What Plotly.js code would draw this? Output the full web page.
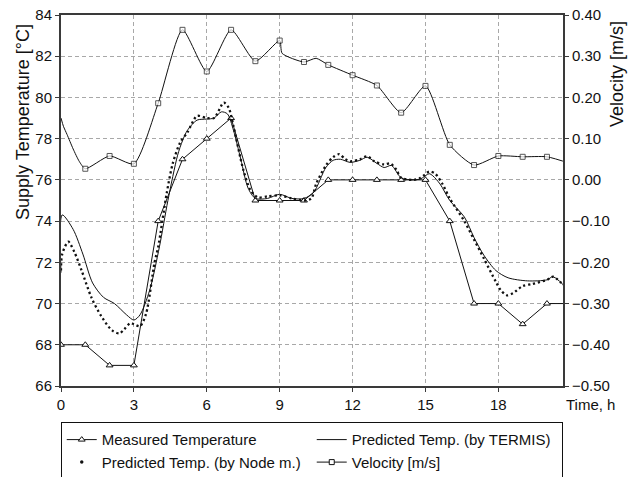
<!DOCTYPE html>
<html>
<head>
<meta charset="utf-8">
<script src="https://cdn.plot.ly/plotly-3.0.1.min.js"></script>
<style>
html,body{margin:0;padding:0;background:#fff;}
#chart{width:634px;height:477px;}
</style>
</head>
<body>
<div id="chart"></div>
<script>
// ---- Data ----
const measHours = [0,1,2,3,4,5,6,7,8,9,10,11,12,13,14,15,16,17,18,19,20,21];
const measTemp  = [68,68,67,67,74,77,78,79,75,75,75,76,76,76,76,76,74,70,70,69,70,70];

const termisTime = [0,0.05,0.5,0.9,1.3,1.75,2.2,2.7,3.0,3.25,3.65,4.05,4.4,4.8,5.0,5.2,5.6,6.0,6.3,6.6,6.85,7.1,7.4,7.7,8.0,8.5,9.0,9.5,10.0,10.4,10.9,11.2,11.5,11.9,12.3,12.6,13.0,13.3,13.6,14.0,14.5,14.8,15.15,15.3,15.6,16.0,16.6,17.0,17.4,17.9,18.4,19.2,20.0,20.25,21];
const termisTemp = [71.5,74.3,73.6,72.4,71.0,70.3,70.0,69.45,69.2,69.45,70.65,72.75,75.0,77.2,77.9,78.4,78.9,78.95,79.0,79.3,79.2,78.4,77.0,75.6,75.1,75.1,75.3,75.1,75.1,75.4,76.6,76.95,77.0,76.85,76.95,77.1,76.8,76.6,76.7,76.1,76.0,76.05,76.3,76.2,75.8,75.0,74.2,73.2,72.35,71.6,71.25,71.1,71.15,71.3,70.5];

const nodeTime = [0,0.05,0.3,0.55,0.85,1.25,1.65,2.1,2.4,2.6,2.85,3.0,3.25,3.5,3.85,4.0,4.35,4.6,4.9,5.2,5.6,6.0,6.3,6.7,6.9,7.1,7.5,7.8,8.1,8.5,9.0,9.5,10.0,10.3,10.5,10.9,11.2,11.45,11.7,11.9,12.3,12.6,12.9,13.3,13.55,13.8,14.0,14.5,14.8,15.15,15.4,15.7,16.0,16.6,17.0,17.4,17.9,18.1,18.35,18.6,19.0,19.4,20.0,20.25,21];
const nodeTemp = [71.6,72.4,73.0,72.5,71.6,70.3,69.4,68.7,68.55,68.75,69.05,69.0,68.9,69.5,72.0,72.75,75.35,76.8,77.8,78.3,79.1,79.0,79.0,79.75,79.5,78.6,76.5,75.5,75.15,75.2,75.25,75.1,75.0,75.1,75.8,76.7,77.1,77.25,77.0,76.9,77.0,77.15,76.9,76.75,76.8,76.5,76.1,76.0,76.1,76.4,76.3,75.8,75.1,74.0,73.1,72.2,71.05,70.65,70.4,70.5,70.85,70.95,71.15,71.3,70.5];

const velTime  = [0,0.1,0.25,0.5,0.75,1,2,3,4,5,6,7,8,9,9.1,10,10.5,11,12,13,14,15,16,17,18,19,20,21];
const velValue = [0.15,0.13,0.11,0.075,0.045,0.027,0.058,0.039,0.186,0.364,0.263,0.364,0.288,0.338,0.307,0.286,0.295,0.279,0.254,0.229,0.163,0.228,0.085,0.036,0.058,0.056,0.056,0.039];

const xTickVals = [0,3,6,9,12,15,18];
const seriesNames = ['Measured Temperature','Predicted Temp. (by TERMIS)','Predicted Temp. (by Node m.)','Velocity [m/s]'];

// ---- Styling ----
const FONT = 'Liberation Sans, Arial, sans-serif';
const axisCol = '#3a3a3a';
const gridCol = '#a8a8a8';

const traces = [
  { // Measured
    x: measHours, y: measTemp, name: seriesNames[0], mode: 'lines+markers',
    line: {color: '#111', width: 1},
    marker: {symbol: 'triangle-up', size: 6, color: '#fff', line: {color: '#111', width: 1}},
    legendrank: 1
  },
  { // TERMIS
    x: termisTime, y: termisTemp, name: seriesNames[1], mode: 'lines',
    line: {color: '#111', width: 1, shape: 'spline', smoothing: 0.8},
    legendrank: 2
  },
  { // Node model (drawn)
    x: nodeTime, y: nodeTemp, name: seriesNames[2], mode: 'lines',
    line: {color: '#111', width: 2.3, dash: '2.2px,2.8px', shape: 'spline', smoothing: 0.8},
    showlegend: false
  },
  { // Node model legend entry
    x: [null], y: [null], name: seriesNames[2], mode: 'markers',
    marker: {color: '#111', size: 3.5}, legendrank: 3
  },
  { // Velocity
    x: velTime, y: velValue, name: seriesNames[3], yaxis: 'y2', mode: 'lines+markers',
    line: {color: '#111', width: 1, shape: 'spline', smoothing: 0.6},
    marker: {symbol: 'square', color: '#fff', line: {color: '#111', width: 1},
             size: velTime.map(t => (Number.isInteger(t) && t > 0) ? 5 : 0)},
    showlegend: false
  },
  { // Velocity legend entry
    x: [null], y: [null], name: seriesNames[3], yaxis: 'y2', mode: 'lines+markers',
    line: {color: '#111', width: 1},
    marker: {symbol: 'square', size: 5, color: '#fff', line: {color: '#111', width: 1}},
    legendrank: 4
  }
];

const layout = {
  width: 634, height: 477,
  margin: {l: 61, r: 71, t: 15, b: 91, pad: 0, autoexpand: false},
  paper_bgcolor: '#fff', plot_bgcolor: '#fff',
  font: {family: FONT, size: 15, color: '#111'},
  showlegend: true,
  xaxis: {
    range: [0, 20.66], tickvals: xTickVals, ticktext: xTickVals.map(String),
    showline: true, linecolor: axisCol, linewidth: 2, mirror: true,
    ticks: 'outside', ticklen: 4, tickcolor: axisCol, tickwidth: 1,
    showgrid: true, gridcolor: gridCol, gridwidth: 1, griddash: '4px,3px',
    zeroline: false, tickfont: {size: 15, family: FONT, color: '#111'}
  },
  yaxis: {
    range: [66, 84], dtick: 2, tick0: 66,
    showline: true, linecolor: axisCol, linewidth: 2, mirror: true,
    ticks: 'outside', ticklen: 4, tickcolor: axisCol, tickwidth: 1,
    showgrid: true, gridcolor: gridCol, gridwidth: 1, griddash: '4px,3px',
    zeroline: false, tickfont: {size: 15, family: FONT, color: '#111'}
  },
  yaxis2: {
    overlaying: 'y', side: 'right', range: [-0.5, 0.4], dtick: 0.1, tick0: -0.5,
    tickformat: '.2f', showgrid: false, zeroline: false,
    showline: true, linecolor: axisCol, linewidth: 2,
    ticks: 'outside', ticklen: 4, tickcolor: axisCol, tickwidth: 1,
    tickfont: {size: 15, family: FONT, color: '#111'}
  },
  legend: {
    orientation: 'h', xref: 'paper', x: -0.0005, xanchor: 'left',
    yref: 'paper', y: -0.098, yanchor: 'top',
    bordercolor: '#111', borderwidth: 1, bgcolor: '#fff',
    font: {size: 15, family: FONT, color: '#111'},
    entrywidth: 205, entrywidthmode: 'pixels', itemwidth: 30,
    traceorder: 'normal'
  },
  annotations: [
    {text: 'Supply Temperature [°C]', textangle: -90, xref: 'paper', yref: 'paper',
     x: -0.0757, y: 0.7116, xanchor: 'center', yanchor: 'middle', showarrow: false,
     font: {size: 18, family: FONT, color: '#111'}},
    {text: 'Velocity [m/s]', textangle: -90, xref: 'paper', yref: 'paper',
     x: 1.1076, y: 0.841, xanchor: 'center', yanchor: 'middle', showarrow: false,
     font: {size: 18, family: FONT, color: '#111'}},
    {text: 'Time, h', xref: 'paper', yref: 'paper', x: 1, xshift: 1, y: -0.0512,
     xanchor: 'left', yanchor: 'middle', showarrow: false,
     font: {size: 15, family: FONT, color: '#111'}}
  ]
};

Plotly.newPlot('chart', traces, layout, {displayModeBar: false, staticPlot: true});
</script>
</body>
</html>
